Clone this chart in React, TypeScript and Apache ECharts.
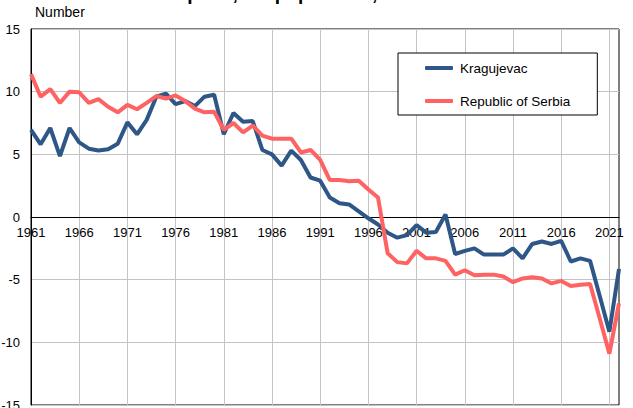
import React, { useEffect, useRef } from "react";
import * as echarts from "echarts";

const years: string[] = [];
for (let y = 1961; y <= 2022; y++) years.push(String(y));

const kragujevac = [
  6.95, 5.8, 7.1, 4.85, 7.1, 5.95, 5.45, 5.3, 5.4, 5.85,
  7.55, 6.6, 7.75, 9.6, 9.85, 9.0, 9.25, 8.85, 9.6, 9.75,
  6.6, 8.3, 7.6, 7.65, 5.35, 5.0, 4.1, 5.3, 4.55, 3.15,
  2.9, 1.55, 1.1, 1.0, 0.45, -0.1, -0.6, -1.25, -1.65, -1.45,
  -0.65, -1.25, -1.2, 0.2, -2.95, -2.7, -2.5, -3.0, -3.0, -3.0,
  -2.5, -3.3, -2.15, -1.95, -2.15, -1.9, -3.55, -3.3, -3.5, -6.3,
  -9.15, -4.15,
];

const serbia = [
  11.4, 9.6, 10.2, 9.1, 10.0, 9.95, 9.1, 9.4, 8.8, 8.35,
  8.95, 8.6, 9.1, 9.65, 9.45, 9.7, 9.25, 8.65, 8.35, 8.4,
  6.95, 7.5, 6.75, 7.3, 6.5, 6.25, 6.25, 6.25, 5.15, 5.35,
  4.55, 2.95, 2.95, 2.85, 2.9, 2.2, 1.55, -2.9, -3.6, -3.7,
  -2.7, -3.3, -3.3, -3.5, -4.6, -4.25, -4.65, -4.6, -4.6, -4.75,
  -5.2, -4.9, -4.8, -4.9, -5.3, -5.1, -5.5, -5.4, -5.35, -8.1,
  -10.9, -6.9,
];

const seriesNames = ["Kragujevac", "Republic of Serbia"];
const titleText = "Natural increase per 1,000 population, 1961–2022";
const yName = "Number";

const FONT = '"Liberation Sans", Arial, sans-serif';

const GRID_TOP = 29;
const GRID_BOTTOM = 3;
const CHART_H = 408;

export default function App() {
  const ref = useRef<HTMLDivElement>(null);
  useEffect(() => {
    if (!ref.current) return;
    const chart = echarts.init(ref.current, null, { renderer: "svg" });
    const gridH = CHART_H - GRID_TOP - GRID_BOTTOM;
    chart.setOption({
      animation: false,
      backgroundColor: "#ffffff",
      textStyle: { fontFamily: FONT },
      graphic: [
        {
          type: "text",
          x: 34,
          y: -16,
          style: {
            text: titleText,
            font: `bold 19px ${FONT}`,
            fill: "#000",
            verticalAlign: "top",
          },
        },
        {
          type: "text",
          x: 35,
          y: 12,
          style: {
            text: yName,
            font: `14px ${FONT}`,
            fill: "#000",
            verticalAlign: "middle",
          },
        },
      ],
      grid: {
        left: 31,
        right: 14,
        top: GRID_TOP,
        bottom: GRID_BOTTOM,
        show: true,
        borderColor: "#000",
        borderWidth: 1,
        containLabel: false,
        outerBoundsMode: "none",
      },
      legend: {
        orient: "vertical",
        left: 398,
        top: 53,
        data: seriesNames,
        icon: "roundRect",
        itemWidth: 28,
        itemHeight: 4,
        itemGap: 19,
        padding: [8, 27, 7, 27],
        borderColor: "#000",
        borderWidth: 1,
        backgroundColor: "#fff",
        textStyle: { fontSize: 13.5, color: "#000", fontFamily: FONT, padding: [0, 0, 0, 2] },
      },
      xAxis: {
        type: "category",
        data: years,
        boundaryGap: false,
        offset: -gridH / 2,
        axisLine: { onZero: false, lineStyle: { color: "#000", width: 1 } },
        axisTick: { show: false },
        axisLabel: { interval: 4, fontSize: 13, color: "#000", margin: 9, fontFamily: FONT },
        splitLine: { show: true, interval: 4, lineStyle: { color: "#c4c4c4", width: 1 } },
      },
      yAxis: {
        type: "value",
        min: -15,
        max: 15,
        interval: 5,
        axisLine: { show: true, lineStyle: { color: "#000" } },
        axisTick: { show: false },
        axisLabel: { fontSize: 13, color: "#000", margin: 11, fontFamily: FONT },
        splitLine: { show: true, lineStyle: { color: "#c4c4c4", width: 1 } },
      },
      series: [
        {
          name: seriesNames[0],
          type: "line",
          data: kragujevac,
          showSymbol: false,
          lineStyle: { color: "#2E5686", width: 4 },
          itemStyle: { color: "#2E5686" },
        },
        {
          name: seriesNames[1],
          type: "line",
          data: serbia,
          showSymbol: false,
          lineStyle: { color: "#FF6262", width: 4 },
          itemStyle: { color: "#FF6262" },
        },
      ],
    });
    return () => chart.dispose();
  }, []);
  return (
    <div
      ref={ref}
      style={{ position: "fixed", left: 0, top: 0, width: 633, height: 408 }}
    />
  );
}
